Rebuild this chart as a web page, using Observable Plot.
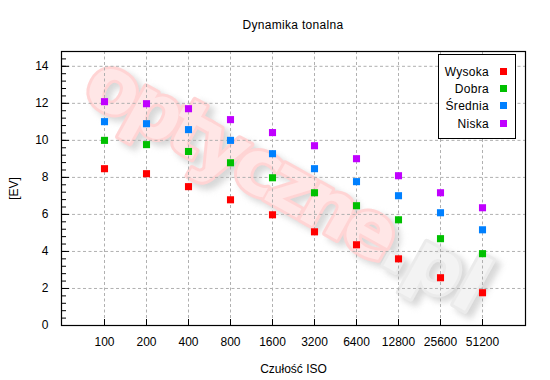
<!DOCTYPE html>
<html>
<head>
<meta charset="utf-8">
<script src="https://cdn.jsdelivr.net/npm/d3@7"></script>
<script src="https://cdn.jsdelivr.net/npm/@observablehq/plot@0.6"></script>
<style>
  html, body { margin: 0; padding: 0; background: #fff; }
  #wrap { position: relative; width: 550px; height: 380px; font-family: "Liberation Sans", Arial, sans-serif; color: #000; }
  #title { position: absolute; left: 61px; width: 464px; top: 18px; text-align: center; font-size: 12px; letter-spacing: 0.3px; }
  #legend { position: absolute; left: 438px; top: 54px; width: 78px; height: 85px; border: 1px solid #000; background: #fff; box-sizing: border-box; font-size: 12px; }
  .row { position: absolute; left: 0; width: 100%; height: 16px; }
  .row span.t { position: absolute; right: 26px; top: 0; line-height: 16px; letter-spacing: 0.3px; }
  .row span.m { position: absolute; right: 8px; top: 4px; width: 7px; height: 7px; }
</style>
</head>
<body>
<div id="wrap">
  <div id="chart"></div>
  <div id="title">Dynamika tonalna</div>
  <div id="legend"></div>
</div>
<script>
const isoLabels = ["100", "200", "400", "800", "1600", "3200", "6400", "12800", "25600", "51200"];
const seriesNames = ["Wysoka", "Dobra", "Średnia", "Niska"];
const seriesColors = ["#ff0000", "#00c000", "#0080ff", "#c000ff"];
const wysoka  = [8.47, 8.2, 7.5, 6.79, 5.98, 5.06, 4.36, 3.6, 2.58, 1.77];
const dobra   = [10.0, 9.77, 9.4, 8.79, 7.98, 7.17, 6.47, 5.71, 4.69, 3.88];
const srednia = [11.01, 10.9, 10.58, 10.0, 9.28, 8.47, 7.77, 7.01, 6.09, 5.17];
const niska   = [12.09, 11.98, 11.71, 11.12, 10.42, 9.71, 9.01, 8.09, 7.17, 6.36];
const yMajor = [0, 2, 4, 6, 8, 10, 12, 14];
const yMinor = d3.range(0, 14.81, 0.4).map(v => +v.toFixed(1));
const yDomain = [0, 14.8];
const wmMain = ["optyczne"];
const wmTail = [".pl"];

const seriesValues = [wysoka, dobra, srednia, niska];
const data = [];
seriesNames.forEach((s, si) => {
  seriesValues[si].forEach((v, i) => data.push({iso: isoLabels[i], ev: v, series: s}));
});

const gridStyle = {stroke: "#b0b0b0", strokeOpacity: 1, strokeDasharray: "3,2.5"};
const wm = {frameAnchor: "middle", dx: 95, dy: 52, rotate: 29, fontSize: 76, fontWeight: "bold", fontFamily: "'DejaVu Sans', sans-serif", strokeWidth: 6, strokeLinejoin: "round"};
const SHADOW = "#d8d8d8";

const chart = Plot.plot({
  width: 550,
  height: 380,
  marginLeft: 61,
  marginRight: 25,
  marginTop: 51,
  marginBottom: 55,
  style: {fontFamily: "'Liberation Sans', Arial, sans-serif", fontSize: "12px", background: "white", color: "black"},
  x: {type: "point", domain: isoLabels, padding: 1},
  y: {domain: yDomain},
  color: {domain: seriesNames, range: seriesColors},
  marks: [
    Plot.text(wmMain, {...wm, dx: wm.dx + 5, dy: wm.dy + 5, textAnchor: "end", fill: SHADOW, stroke: SHADOW}),
    Plot.text(wmTail, {...wm, dx: wm.dx + 5, dy: wm.dy + 5, textAnchor: "start", fill: SHADOW, stroke: SHADOW}),
    Plot.text(wmMain, {...wm, textAnchor: "end", fill: "#ffe6e6", stroke: "#ffd4d4"}),
    Plot.text(wmTail, {...wm, textAnchor: "start", fill: "#f3f3f3", stroke: "#ebebeb"}),
    Plot.gridY(yMajor.filter(v => v > 0), gridStyle),
    Plot.gridX(gridStyle),
    Plot.axisY(yMinor, {anchor: "right", frameAnchor: "left", tickSize: 4, fill: "none", label: null}),
    Plot.axisY(yMajor, {anchor: "right", frameAnchor: "left", tickSize: 7, fill: "none", label: null}),
    Plot.axisY(yMajor, {anchor: "left", tickSize: 0, tickPadding: 13, label: "[EV]", labelAnchor: "center", labelArrow: "none", labelOffset: 52}),
    Plot.axisX({anchor: "top", frameAnchor: "bottom", tickSize: 7, fill: "none", label: null}),
    Plot.axisX({anchor: "bottom", tickSize: 0, tickPadding: 12, label: "Czułość ISO", labelAnchor: "center", labelArrow: "none", labelOffset: 47}),
    Plot.dot(data, {x: "iso", y: "ev", fill: "series", symbol: "square", r: 4}),
    Plot.frame({stroke: "#000", strokeWidth: 1.2})
  ]
});
d3.select(chart).selectAll("text")
  .filter(function() { return this.textContent === wmMain[0] || this.textContent === wmTail[0]; })
  .attr("letter-spacing", function() { return this.textContent === wmMain[0] ? "-6px" : "-1px"; })
  .each(function() {
    const g = this.parentNode;
    if (d3.select(g).attr("fill") === SHADOW || d3.select(this).attr("fill") === SHADOW) {
      d3.select(this).style("filter", "blur(3px)");
    }
  });
document.getElementById("chart").appendChild(chart);

const legend = document.getElementById("legend");
seriesNames.forEach((s, i) => {
  const row = document.createElement("div");
  row.className = "row";
  row.style.top = (9 + i * 17.2) + "px";
  row.innerHTML = `<span class="t">${s}</span><span class="m" style="background:${seriesColors[i]}"></span>`;
  legend.appendChild(row);
});
</script>
</body>
</html>
